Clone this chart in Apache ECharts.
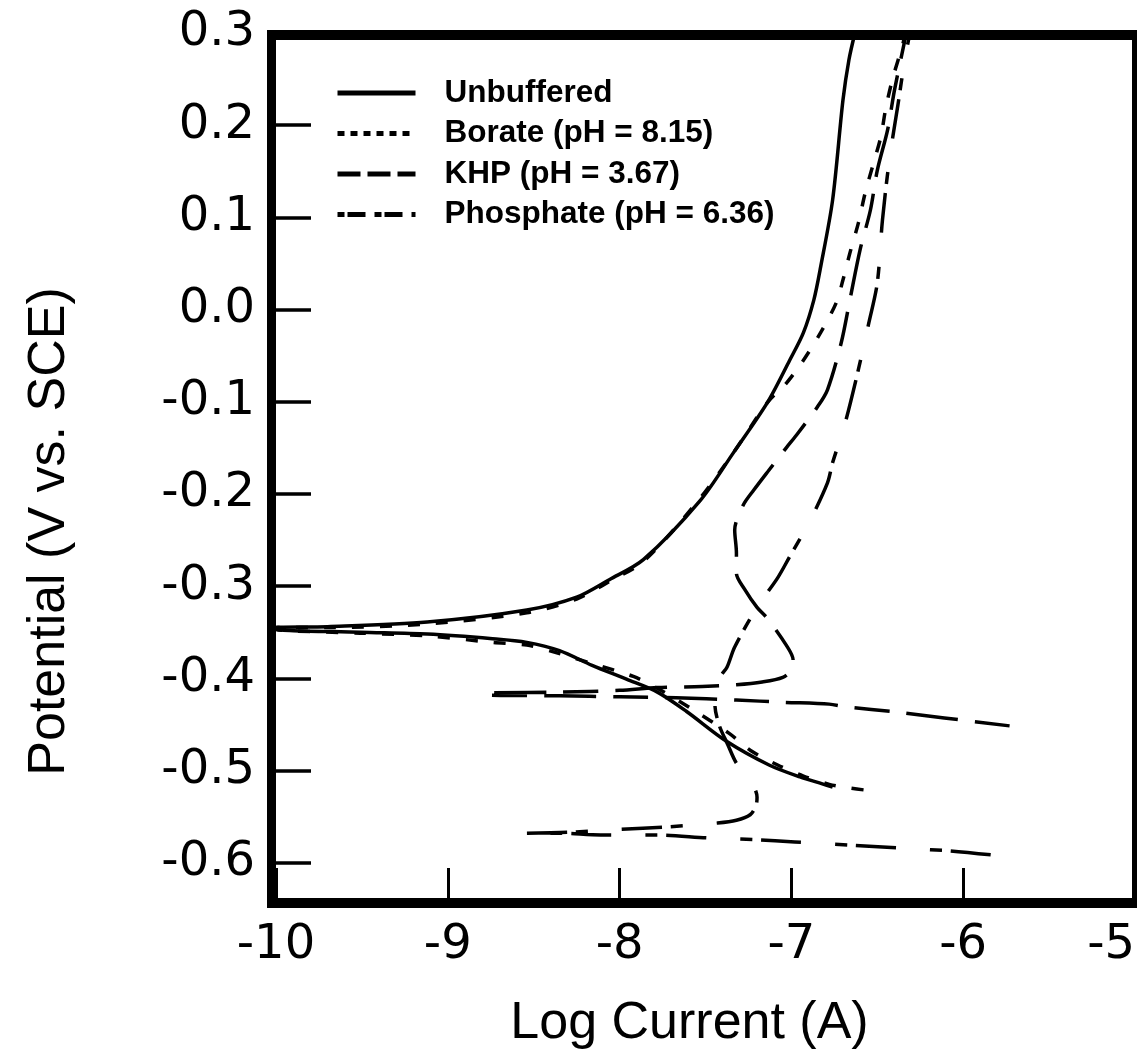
<!DOCTYPE html>
<html>
<head>
<meta charset="utf-8">
<script src="https://cdn.jsdelivr.net/npm/echarts@6/dist/echarts.min.js"></script>
<style>
html,body{margin:0;padding:0;background:#fff;}
#chart{width:1137px;height:1061px;}
</style>
</head>
<body>
<div id="chart"></div>
<script>
// ---- data (log current in A, potential in V vs SCE) ----
const seriesNames = ['Unbuffered', 'Borate (pH = 8.15)', 'KHP (pH = 3.67)', 'Phosphate (pH = 6.36)'];
const xTickValues = [-10, -9, -8, -7, -6, -5];
const yTickValues = [0.3, 0.2, 0.1, 0.0, -0.1, -0.2, -0.3, -0.4, -0.5, -0.6];

const unbufferedCathodic = [[-6.76,-0.518],[-6.82,-0.5145],[-6.95,-0.507],[-7.13,-0.494],[-7.38,-0.468],[-7.61,-0.436],[-7.78,-0.415],[-7.96,-0.401],[-8.16,-0.386],[-8.35,-0.370],[-8.54,-0.361],[-8.74,-0.357],[-9.12,-0.352],[-9.51,-0.350],[-10,-0.347]];
const unbufferedAnodic = [[-10,-0.345],[-9.70,-0.344],[-9.12,-0.339],[-8.54,-0.326],[-8.25,-0.312],[-8.06,-0.293],[-7.86,-0.271],[-7.53,-0.207],[-7.34,-0.156],[-7.14,-0.101],[-7.01,-0.055],[-6.93,-0.025],[-6.87,0.010],[-6.83,0.046],[-6.76,0.119],[-6.70,0.227],[-6.665,0.271],[-6.63,0.300]];

const borateCathodic = [[-6.58,-0.521],[-6.66,-0.519],[-6.78,-0.515],[-6.93,-0.506],[-7.08,-0.494],[-7.24,-0.478],[-7.36,-0.460],[-7.59,-0.432],[-7.76,-0.413],[-7.92,-0.398],[-8.16,-0.384],[-8.39,-0.371],[-8.54,-0.364],[-8.74,-0.361],[-9.12,-0.354],[-9.51,-0.351],[-10,-0.347]];
const borateAnodic = [[-10,-0.345],[-9.70,-0.345],[-9.12,-0.341],[-8.54,-0.329],[-8.25,-0.314],[-8.06,-0.295],[-7.86,-0.273],[-7.55,-0.209],[-7.34,-0.156],[-7.14,-0.101],[-7.03,-0.080],[-6.93,-0.055],[-6.83,-0.025],[-6.74,0.007],[-6.70,0.032],[-6.66,0.061],[-6.61,0.094],[-6.57,0.127],[-6.525,0.157],[-6.48,0.187],[-6.45,0.219],[-6.41,0.251],[-6.35,0.289],[-6.34,0.300]];

const khpCathodic = [[-5.73,-0.4516],[-6.11,-0.443],[-6.39,-0.4365],[-6.68,-0.431],[-6.78,-0.428],[-7.05,-0.426],[-7.32,-0.4235],[-7.67,-0.421],[-8.00,-0.420],[-8.35,-0.419],[-8.78,-0.418]];
const khpAnodic = [[-8.78,-0.416],[-8.35,-0.415],[-8.00,-0.413],[-7.78,-0.410],[-7.52,-0.409],[-7.32,-0.407],[-7.17,-0.404],[-7.05,-0.399],[-7.00,-0.391],[-6.99,-0.380],[-7.03,-0.364],[-7.14,-0.335],[-7.20,-0.323],[-7.27,-0.304],[-7.32,-0.286],[-7.32,-0.264],[-7.33,-0.239],[-7.28,-0.212],[-7.22,-0.196],[-7.13,-0.174],[-7.03,-0.150],[-6.97,-0.136],[-6.85,-0.106],[-6.79,-0.087],[-6.71,-0.036],[-6.66,0.010],[-6.60,0.065],[-6.54,0.108],[-6.50,0.151],[-6.44,0.195],[-6.40,0.238],[-6.34,0.292],[-6.33,0.300]];

const phosphateCathodic = [[-5.84,-0.5915],[-6.09,-0.587],[-6.29,-0.585],[-6.65,-0.581],[-6.98,-0.5775],[-7.21,-0.575],[-7.49,-0.573],[-7.78,-0.570],[-8.11,-0.570],[-8.35,-0.568],[-8.57,-0.568]];
const phosphateAnodic = [[-8.57,-0.568],[-8.29,-0.567],[-8.02,-0.564],[-7.71,-0.561],[-7.43,-0.557],[-7.32,-0.554],[-7.24,-0.548],[-7.206,-0.538],[-7.20,-0.529],[-7.24,-0.510],[-7.32,-0.492],[-7.37,-0.472],[-7.42,-0.451],[-7.445,-0.429],[-7.44,-0.410],[-7.41,-0.397],[-7.375,-0.388],[-7.33,-0.366],[-7.20,-0.323],[-7.08,-0.291],[-7.01,-0.268],[-6.90,-0.232],[-6.79,-0.188],[-6.76,-0.166],[-6.69,-0.125],[-6.62,-0.073],[-6.55,-0.015],[-6.50,0.029],[-6.47,0.097],[-6.43,0.162],[-6.38,0.222],[-6.34,0.271],[-6.31,0.300]];

// ---- chart ----
const FONT = '"Liberation Sans", Arial, sans-serif';
const TICKFONT = '"DejaVu Sans", "Liberation Sans", sans-serif';
const chart = echarts.init(document.getElementById('chart'), null, {renderer: 'canvas'});

function lineSeries(name, data, dash, width) {
  return {
    name: name, type: 'line', data: data, symbol: 'none', smooth: 0.3,
    clip: true, z: 3,
    itemStyle: {color: 'rgba(0,0,0,0)'},
    lineStyle: {color: '#000', width: width, type: dash, cap: 'butt', join: 'round'}
  };
}
const hiddenMark = {color: 'rgba(0,0,0,0)', borderColor: 'rgba(0,0,0,0)', borderWidth: 0, opacity: 0};

const option = {
  backgroundColor: '#fff',
  animation: false,
  grid: {left: 276, right: 2, top: 33, bottom: 163, outerBoundsMode: 'none', containLabel: false},
  xAxis: {
    type: 'value', min: -10, max: -5, interval: 1,
    name: 'Log Current (A)', nameLocation: 'middle', nameGap: 100,
    nameTextStyle: {fontFamily: FONT, fontSize: 52, color: '#000', padding: [0, 32, 0, 0]},
    axisLine: {show: false, onZero: false},
    axisTick: {show: true, inside: true, length: 30, lineStyle: {color: '#000', width: 3}},
    axisLabel: {fontFamily: TICKFONT, fontSize: 48, color: '#000', margin: 24, alignMaxLabel: 'right',
      customValues: xTickValues, formatter: v => String(v)},
    splitLine: {show: false}
  },
  yAxis: {
    type: 'value', min: -0.6383, max: 0.3,
    name: 'Potential (V vs. SCE)', nameLocation: 'middle', nameGap: 200,
    nameTextStyle: {fontFamily: FONT, fontSize: 52, color: '#000', padding: [0, 132, 0, 0]},
    axisLine: {show: false, onZero: false},
    axisTick: {show: true, inside: true, length: 35, customValues: yTickValues, lineStyle: {color: '#000', width: 3.5}},
    axisLabel: {fontFamily: TICKFONT, fontSize: 48, color: '#000', margin: 21, customValues: yTickValues,
      formatter: v => v.toFixed(1)},
    splitLine: {show: false}
  },
  legend: {
    orient: 'vertical', left: 330, top: 72,
    itemWidth: 78, itemHeight: 30, itemGap: 8.5,
    itemStyle: hiddenMark,
    textStyle: {fontFamily: FONT, fontSize: 31.5, fontWeight: 'bold', color: '#000', padding: [0, 0, 0, 24]},
    data: [
      {name: seriesNames[0], itemStyle: hiddenMark, lineStyle: {type: 'solid', width: 5, color: '#000'}},
      {name: seriesNames[1], itemStyle: hiddenMark, lineStyle: {type: [7, 6], width: 5, color: '#000'}},
      {name: seriesNames[2], itemStyle: hiddenMark, lineStyle: {type: [23, 7], width: 5, color: '#000'}},
      {name: seriesNames[3], itemStyle: hiddenMark, lineStyle: {type: [7, 3, 18, 9], width: 5, color: '#000'}}
    ]
  },
  series: [
    lineSeries(seriesNames[0], unbufferedCathodic.concat(unbufferedAnodic), 'solid', 3.5),
    lineSeries(seriesNames[1], borateCathodic.concat(borateAnodic), [12, 16], 3.5),
    lineSeries(seriesNames[2], khpCathodic.concat(khpAnodic), [35, 17, 52, 17], 3.5),
    lineSeries(seriesNames[3], phosphateCathodic.concat(phosphateAnodic), [40, 9, 12, 34], 3.5)
  ],
  graphic: [
    {type: 'line', z: 100, shape: {x1: 267, y1: 35, x2: 1137, y2: 35}, style: {stroke: '#000', lineWidth: 10}},
    {type: 'line', z: 100, shape: {x1: 271.5, y1: 30, x2: 271.5, y2: 908}, style: {stroke: '#000', lineWidth: 9}},
    {type: 'line', z: 100, shape: {x1: 267, y1: 903, x2: 1137, y2: 903}, style: {stroke: '#000', lineWidth: 10}},
    {type: 'line', z: 100, shape: {x1: 1134.5, y1: 30, x2: 1134.5, y2: 908}, style: {stroke: '#000', lineWidth: 5}}
  ]
};
chart.setOption(option);
</script>
</body>
</html>
